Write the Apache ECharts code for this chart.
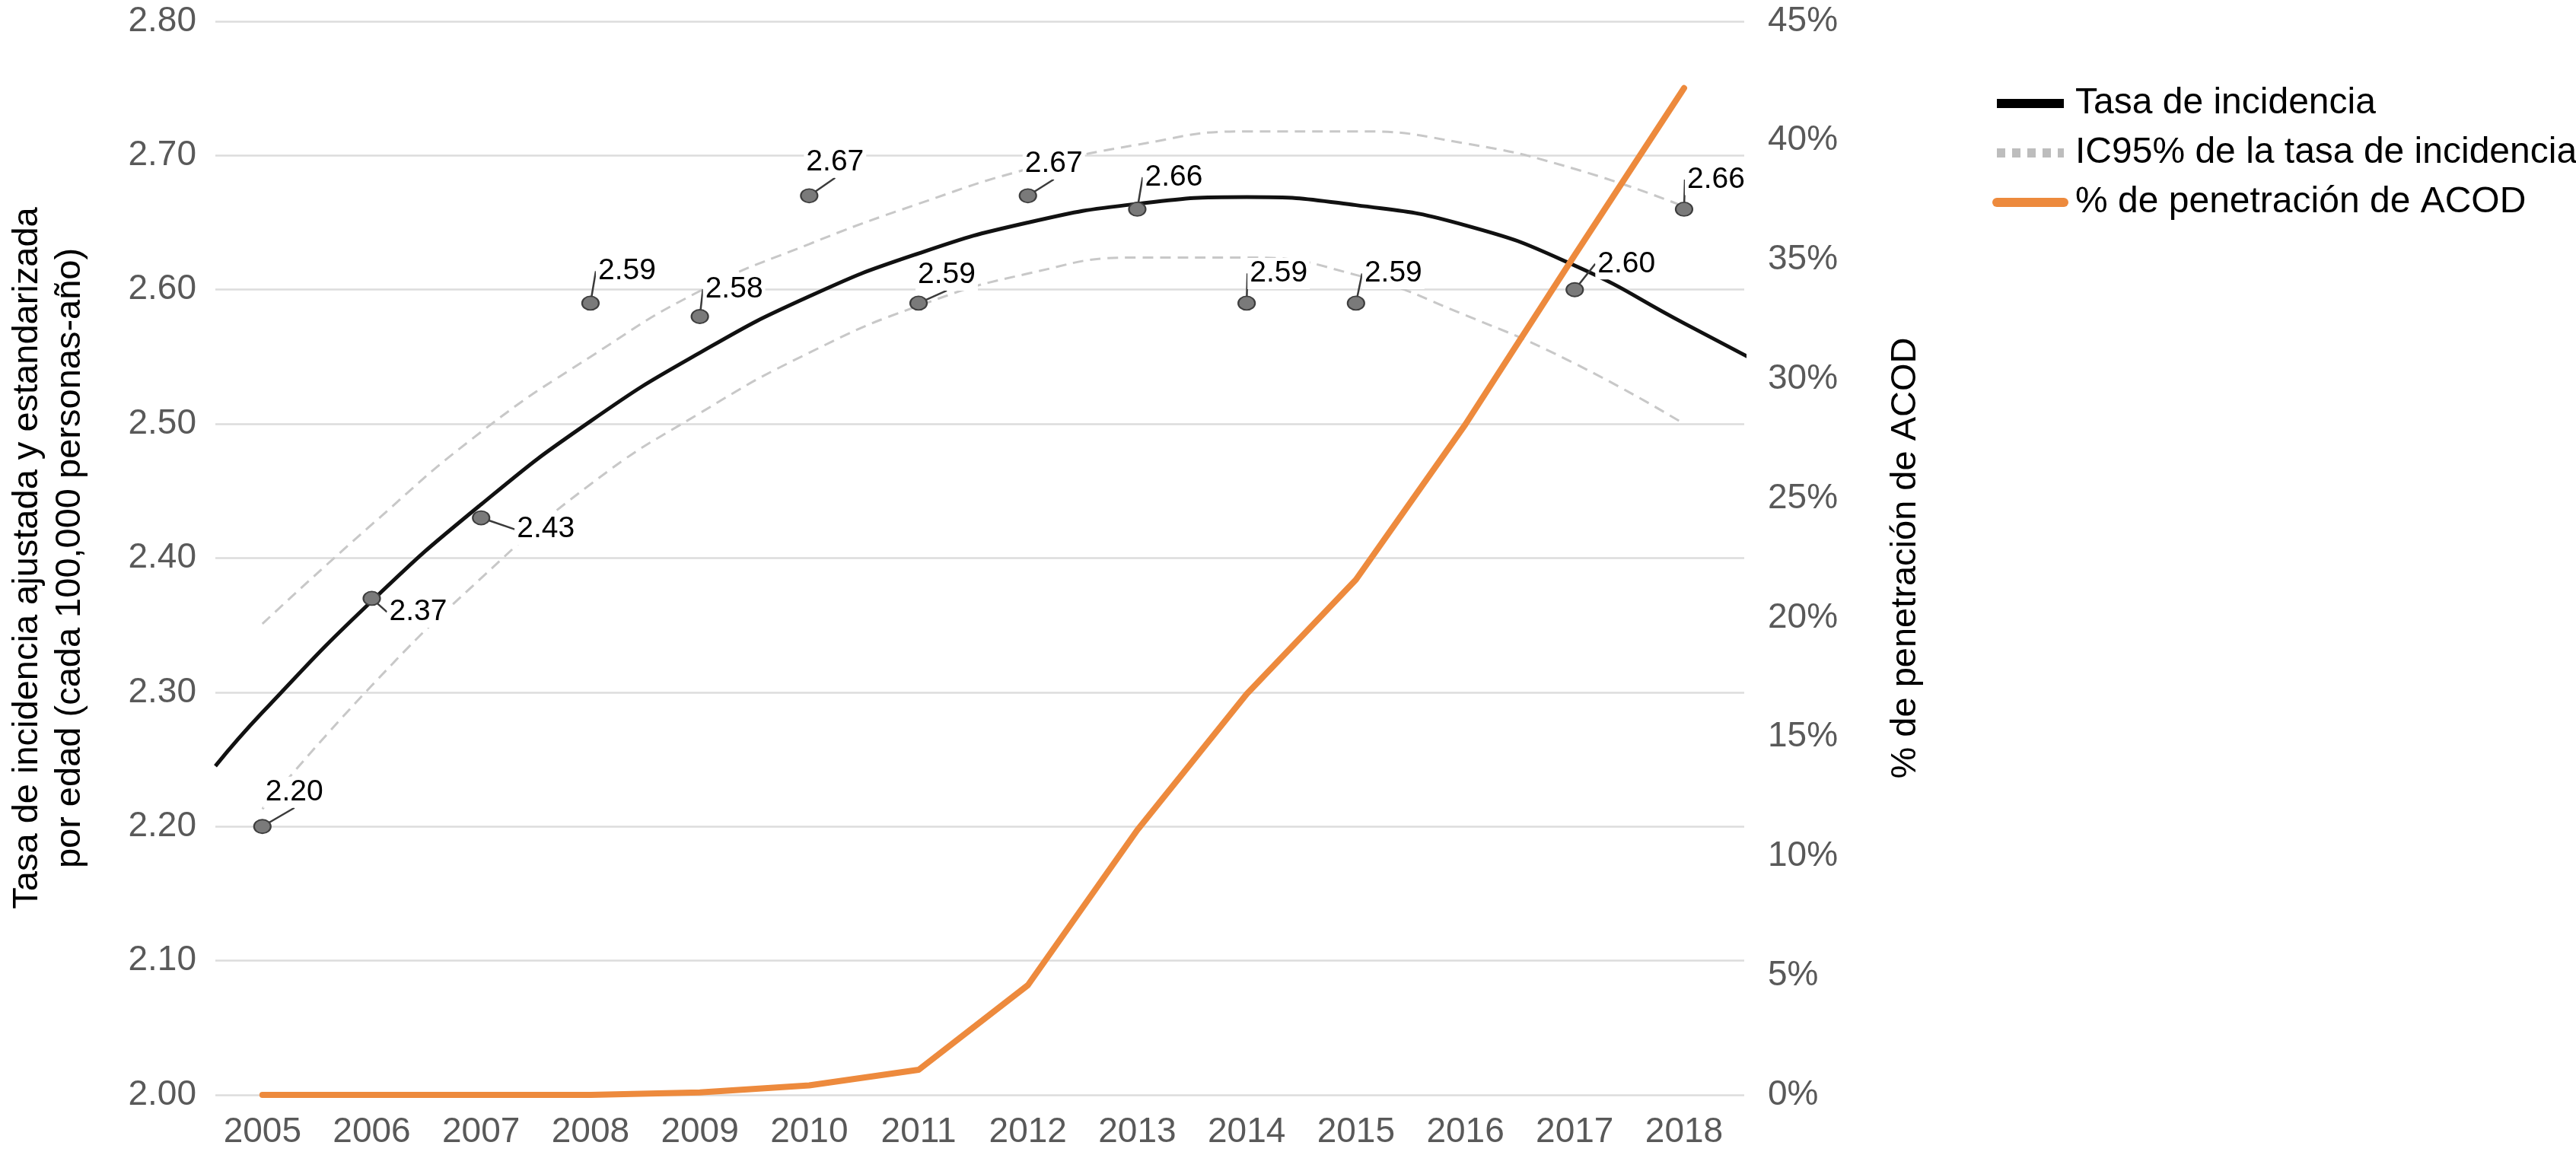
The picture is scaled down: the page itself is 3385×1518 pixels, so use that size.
<!DOCTYPE html>
<html>
<head>
<meta charset="utf-8">
<script src="https://cdn.jsdelivr.net/npm/echarts@6/dist/echarts.min.js"></script>
<style>
html,body{margin:0;padding:0;background:#fff;}
#chart{width:3385px;height:1518px;}
</style>
</head>
<body>
<div id="chart"></div>
<script>
// ---- data ----
const years = [2005,2006,2007,2008,2009,2010,2011,2012,2013,2014,2015,2016,2017,2018];
const observedRate = [2.20,2.37,2.43,2.59,2.58,2.67,2.59,2.67,2.66,2.59,2.59,null,2.60,2.66];
const fitYears = [2004.57,2005,2006,2007,2008,2009,2010,2011,2012,2013,2014,2015,2016,2017,2018,2018.7];
const fitRate  = [2.245,2.285,2.368,2.440,2.502,2.553,2.595,2.627,2.650,2.664,2.669,2.663,2.648,2.618,2.575,2.545];
const ciUpper = [2.351,2.425,2.494,2.550,2.599,2.634,2.664,2.690,2.708,2.718,2.718,2.709,2.690,2.662];
const ciLower = [2.213,2.305,2.385,2.455,2.508,2.553,2.588,2.612,2.624,2.624,2.611,2.581,2.545,2.500];
const acodPct = [0,0,0,0,0.1,0.4,1.05,4.6,11.1,16.8,21.6,28.1,35.2,42.2];
const leftTicks = [2.00,2.10,2.20,2.30,2.40,2.50,2.60,2.70,2.80];
const rightTicks = [0,5,10,15,20,25,30,35,40,45];

// label placement (offset of label centre from its point, px)
const labelOffsets = {
  2005:[42,-45],2006:[61,18],2007:[85,15],2008:[48,-42],2009:[45,-36],2010:[34,-44],
  2011:[37,-37],2012:[34,-42],2013:[48,-42],2014:[42,-39],2015:[49,-39],2017:[68,-34],2018:[42,-39]
};

const FONT = "'Liberation Sans', Arial, Helvetica, sans-serif";
const C_FIT = '#111111', C_CI = '#c8c8c8', C_ACOD = '#ED8A3D';
const scatterData = [];
years.forEach((y,i)=>{ if (observedRate[i] !== null) scatterData.push([y, observedRate[i]]); });

const chart = echarts.init(document.getElementById('chart'), null, {renderer:'canvas'});
chart.setOption({
  animation:false,
  backgroundColor:'#fff',
  textStyle:{fontFamily:FONT},
  grid:{left:272, right:1093, top:28, bottom:79, containLabel:false},
  legend:{
    orient:'vertical', left:2613, top:107,
    itemWidth:88, itemHeight:14, itemGap:17,
    textStyle:{fontSize:48, color:'#000', fontFamily:FONT, padding:[0,0,0,10]},
    data:[
      {name:'Tasa de incidencia', itemStyle:{opacity:0}, lineStyle:{width:12, color:'#000'}},
      {name:'IC95% de la tasa de incidencia', itemStyle:{opacity:0}, lineStyle:{width:12, color:'#bdbdbd', type:[11,9]}},
      {name:'% de penetración de ACOD', itemStyle:{opacity:0}, lineStyle:{width:12, color:C_ACOD}}
    ]
  },
  xAxis:{
    type:'value', min:2004.57, max:2018.55,
    axisLine:{show:false}, axisTick:{show:false}, splitLine:{show:false},
    axisLabel:{customValues:years, formatter:v=>String(v), fontSize:46, color:'#595959', margin:26, fontFamily:FONT}
  },
  yAxis:[
    {
      type:'value', min:leftTicks[0], max:leftTicks[leftTicks.length-1], interval:0.1,
      name:'Tasa de incidencia ajustada y estandarizada\npor edad (cada 100,000 personas-año)',
      nameLocation:'middle', nameRotate:90, nameGap:163,
      nameTextStyle:{fontSize:47, color:'#000', lineHeight:56, fontFamily:FONT},
      axisLine:{show:false}, axisTick:{show:false},
      axisLabel:{formatter:v=>v.toFixed(2), fontSize:46, color:'#595959', margin:25, fontFamily:FONT},
      splitLine:{show:true, lineStyle:{color:'#dcdcdc', width:2.5}}
    },
    {
      type:'value', min:rightTicks[0], max:rightTicks[rightTicks.length-1], interval:5, position:'right',
      name:'% de penetración de ACOD',
      nameLocation:'middle', nameRotate:90, nameGap:189,
      nameTextStyle:{fontSize:47, color:'#000', fontFamily:FONT},
      axisLine:{show:false}, axisTick:{show:false}, splitLine:{show:false},
      axisLabel:{formatter:'{value}%', fontSize:46, color:'#595959', margin:31, fontFamily:FONT}
    }
  ],
  series:[
    {
      name:'IC95% de la tasa de incidencia', type:'line', smooth:true, symbol:'none', z:1,
      data:years.map((y,i)=>[y, ciUpper[i]]),
      itemStyle:{color:C_CI},
      lineStyle:{color:C_CI, width:3, type:[14,9]}
    },
    {
      name:'IC95% de la tasa de incidencia', type:'line', smooth:true, symbol:'none', z:1,
      data:years.map((y,i)=>[y, ciLower[i]]),
      itemStyle:{color:C_CI},
      lineStyle:{color:C_CI, width:3, type:[14,9]}
    },
    {
      name:'Tasa de incidencia', type:'line', smooth:true, symbol:'none', z:2, clip:false,
      data:fitYears.map((y,i)=>[y, fitRate[i]]),
      itemStyle:{color:C_FIT},
      lineStyle:{color:C_FIT, width:5}
    },
    {
      name:'% de penetración de ACOD', type:'line', yAxisIndex:1, symbol:'none', z:3,
      data:years.map((y,i)=>[y, acodPct[i]]),
      itemStyle:{color:C_ACOD},
      lineStyle:{color:C_ACOD, width:8, cap:'round', join:'round'}
    },
    {
      name:'observed', type:'scatter', z:5,
      data:scatterData,
      symbol:'circle', symbolSize:[22,18],
      itemStyle:{color:'#7a7a7a', borderColor:'#3e3e3e', borderWidth:2, opacity:1},
      label:{
        show:true, position:'inside', formatter:p=>p.value[1].toFixed(2),
        fontSize:39, color:'#000', backgroundColor:'#fff', padding:[1,3], fontFamily:FONT
      },
      labelLine:{show:true, lineStyle:{color:'#3a3a3a', width:2.5}},
      labelLayout:function(params){
        const yr = scatterData[params.dataIndex][0];
        const off = labelOffsets[yr] || [42,-40];
        return {dx:off[0], dy:off[1]};
      }
    }
  ]
});
</script>
</body>
</html>
